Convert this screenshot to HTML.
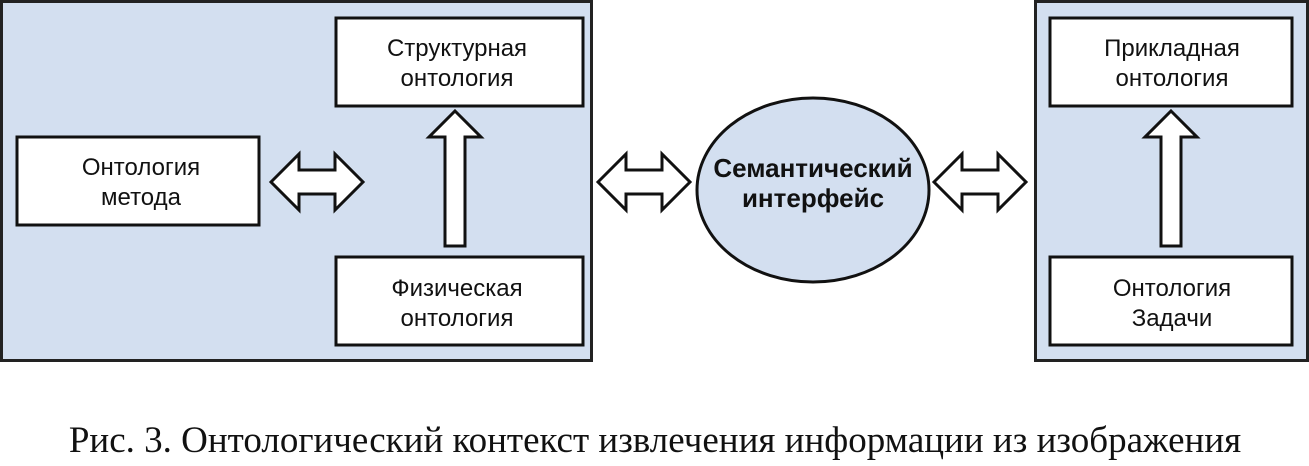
<!DOCTYPE html>
<html><head><meta charset="utf-8"><style>
html,body{margin:0;padding:0;background:#fff;width:1309px;height:466px;overflow:hidden}
svg{display:block}
.t{font-family:"Liberation Sans","DejaVu Sans",sans-serif;font-size:24px;fill:#111;text-anchor:middle}
.b{font-weight:bold;font-size:26px}
.cap{font-family:"Liberation Serif","DejaVu Serif",serif;font-size:37px;fill:#111;text-anchor:middle}
</style></head><body>
<svg width="1309" height="466" viewBox="0 0 1309 466">
<defs>
<polygon id="da" points="0,0 28,-28 28,-12 64,-12 64,-28 92,0 64,28 64,12 28,12 28,28" fill="#fff" stroke="#111" stroke-width="3"/>
</defs>
<rect x="1.5" y="1.5" width="590" height="359" fill="#d3dff0" stroke="#222" stroke-width="3"/>
<rect x="1035.5" y="1.5" width="272" height="359" fill="#d3dff0" stroke="#222" stroke-width="3"/>
<rect x="336" y="18" width="247" height="88" fill="#fff" stroke="#111" stroke-width="3"/>
<rect x="336" y="257" width="247" height="88" fill="#fff" stroke="#111" stroke-width="3"/>
<rect x="17" y="137" width="242" height="88" fill="#fff" stroke="#111" stroke-width="3"/>
<rect x="1050" y="18" width="242" height="88" fill="#fff" stroke="#111" stroke-width="3"/>
<rect x="1050" y="257" width="242" height="88" fill="#fff" stroke="#111" stroke-width="3"/>
<text class="t" x="457" y="56">Структурная</text><text class="t" x="457" y="86">онтология</text>
<text class="t" x="457" y="296">Физическая</text><text class="t" x="457" y="326">онтология</text>
<text class="t" x="141" y="175">Онтология</text><text class="t" x="141" y="205">метода</text>
<text class="t" x="1172" y="56">Прикладная</text><text class="t" x="1172" y="86">онтология</text>
<text class="t" x="1172" y="296">Онтология</text><text class="t" x="1172" y="326">Задачи</text>
<use href="#da" x="271" y="182"/>
<use href="#da" x="598" y="182"/>
<use href="#da" x="934" y="182"/>
<polygon points="455,111 481,137 465,137 465,246 445,246 445,137 429,137" fill="#fff" stroke="#111" stroke-width="3"/>
<polygon points="1171,111 1197,137 1181,137 1181,246 1161,246 1161,137 1145,137" fill="#fff" stroke="#111" stroke-width="3"/>
<ellipse cx="813" cy="190" rx="116" ry="92" fill="#d3dff0" stroke="#111" stroke-width="3"/>
<text class="t b" x="813" y="177">Семантический</text><text class="t b" x="813" y="207">интерфейс</text>
<text class="cap" x="655" y="452">Рис. 3. Онтологический контекст извлечения информации из изображения</text>
</svg>
</body></html>
